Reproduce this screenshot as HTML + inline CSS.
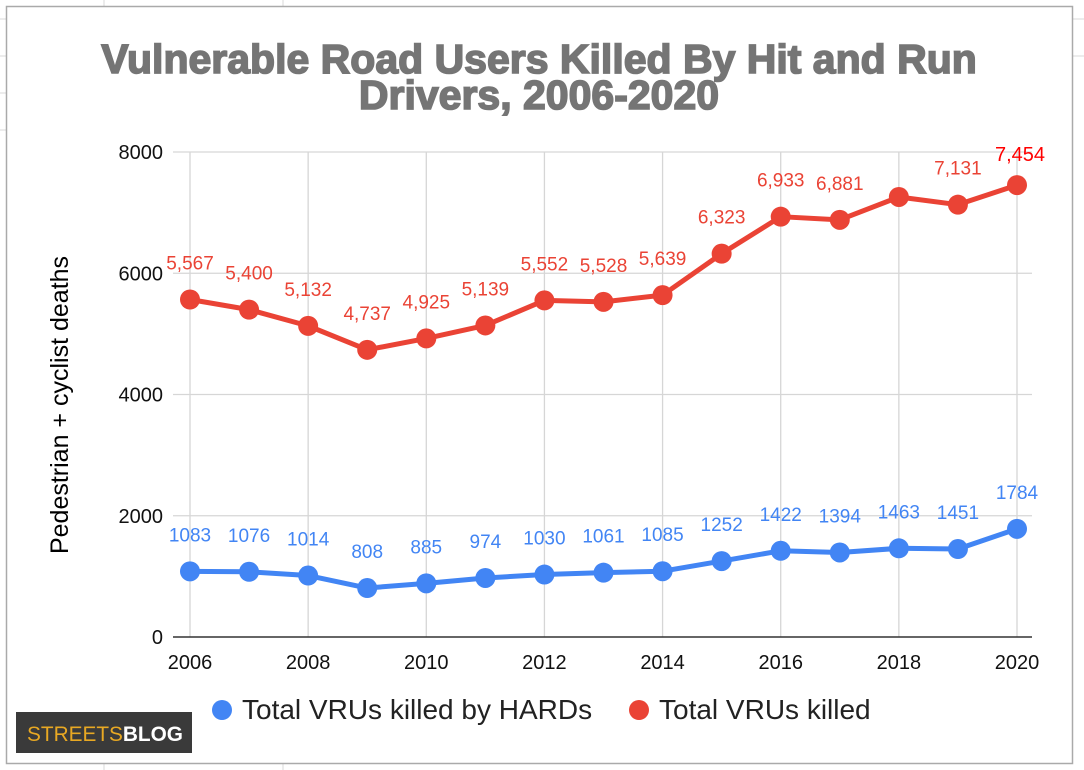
<!DOCTYPE html>
<html><head><meta charset="utf-8"><style>
html,body{margin:0;padding:0;background:#fff;width:1084px;height:770px;overflow:hidden;font-family:"Liberation Sans",Arial,sans-serif;}
</style></head><body>
<svg id="s" width="1084" height="770" xmlns="http://www.w3.org/2000/svg" font-family="Liberation Sans, Arial, sans-serif">
<g stroke="#d9d9d9" stroke-width="1">
<line x1="104" y1="0" x2="104" y2="6"/><line x1="283" y1="0" x2="283" y2="6"/>
<line x1="104" y1="764" x2="104" y2="770"/><line x1="283" y1="764" x2="283" y2="770"/>
<line x1="0" y1="19" x2="6" y2="19"/><line x1="0" y1="56" x2="6" y2="56"/><line x1="0" y1="93" x2="6" y2="93"/><line x1="0" y1="130" x2="6" y2="130"/>
<line x1="1073" y1="19" x2="1084" y2="19"/><line x1="1073" y1="56" x2="1084" y2="56"/>
</g>
<rect x="6.5" y="6.5" width="1066" height="757" fill="#fff" stroke="#aaa" stroke-width="1.5"/>
<text x="539" y="73" text-anchor="middle" font-size="41" font-weight="bold" fill="#757575" stroke="#757575" stroke-width="1.6">Vulnerable Road Users Killed By Hit and Run</text>
<text x="539" y="109" text-anchor="middle" font-size="41" font-weight="bold" fill="#757575" stroke="#757575" stroke-width="1.6">Drivers, 2006-2020</text>
<text transform="translate(68,405) rotate(-90)" text-anchor="middle" font-size="25" fill="#000">Pedestrian + cyclist deaths</text>
<g id="grid" stroke="#d6d6d6" stroke-width="1.3"></g>
<g id="data"></g>
<circle cx="222" cy="710" r="10" fill="#4285f4"/>
<text x="242" y="719" font-size="28" fill="#222">Total VRUs killed by HARDs</text>
<circle cx="639" cy="710" r="10" fill="#ea4335"/>
<text x="659" y="719" font-size="28" fill="#222">Total VRUs killed</text>
<rect x="16" y="712" width="176" height="41" fill="#3a3a3a"/>
<text x="27" y="741" font-size="21" fill="#e8a823" textLength="156" lengthAdjust="spacingAndGlyphs">STREETS<tspan fill="#fff" font-weight="bold">BLOG</tspan></text>
</svg>
<script>
var NS="http://www.w3.org/2000/svg";
function el(p,t,a,txt){var e=document.createElementNS(NS,t);for(var k in a)e.setAttribute(k,a[k]);if(txt!=null)e.textContent=txt;p.appendChild(e);return e;}
var g=document.getElementById('grid'),d=document.getElementById('data');
function X(i){return 190+i*(1017-190)/14;}
function Y(v){return 637-v*0.060625;}
for(var v=2000;v<=8000;v+=2000)el(g,'line',{x1:173,x2:1032,y1:Y(v),y2:Y(v)});
for(var i=0;i<=14;i+=2)el(g,'line',{x1:X(i),x2:X(i),y1:152,y2:637});
var s=document.getElementById('s');
el(s,'line',{x1:173,x2:1032,y1:637,y2:637,stroke:'#333','stroke-width':1.5});
[0,2000,4000,6000,8000].forEach(function(v){el(s,'text',{x:163,y:Y(v)+7,'text-anchor':'end','font-size':20,fill:'#111'},String(v));});
for(var i=0;i<=14;i+=2)el(s,'text',{x:X(i),y:669,'text-anchor':'middle','font-size':20,fill:'#111'},String(2006+i));
var red=[5567,5400,5132,4737,4925,5139,5552,5528,5639,6323,6933,6881,7258,7131,7454];
var redL=["5,567","5,400","5,132","4,737","4,925","5,139","5,552","5,528","5,639","6,323","6,933","6,881",null,"7,131","7,454"];
var blue=[1083,1076,1014,808,885,974,1030,1061,1085,1252,1422,1394,1463,1451,1784];
function series(arr,labels,col){
 var p=arr.map(function(v,i){return X(i)+','+Y(v);}).join(' ');
 el(d,'polyline',{points:p,fill:'none',stroke:col,'stroke-width':5,'stroke-linejoin':'round'});
 arr.forEach(function(v,i){el(d,'circle',{cx:X(i),cy:Y(v),r:10,fill:col});
  var L=labels[i];if(L==null)return;
  var last=(i==14&&col=='#ea4335');
  el(d,'text',{x:X(i)+(last?3:0),y:Y(v)-(last?24:30),'text-anchor':'middle','font-size':last?20:19,fill:last?'#ff0000':col},L);});
}
series(red,redL,'#ea4335');
series(blue,blue.map(String),'#4285f4');
</script>
</body></html>
